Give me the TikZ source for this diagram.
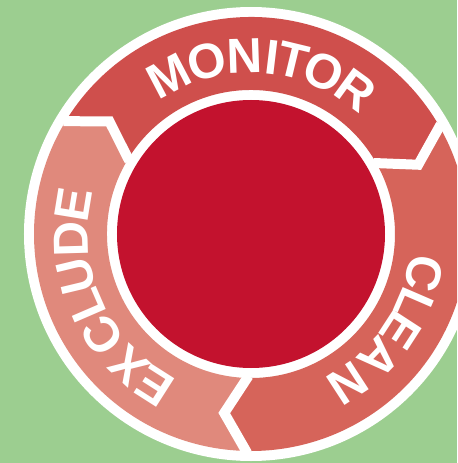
\documentclass[tikz,border=0pt]{standalone}
\usepackage{fontspec}
\setsansfont{Liberation Sans}
\definecolor{bggreen}{HTML}{9CCE90}
\definecolor{monred}{HTML}{CF4F4C}
\definecolor{cleanred}{HTML}{D6645A}
\definecolor{exred}{HTML}{E0897C}
\definecolor{corered}{HTML}{C3122E}
\tikzset{
  ringletter/.style={text=white,inner sep=0pt,font=\sffamily\bfseries\fontsize{28}{28}\selectfont},
  gapline/.style={draw=white,line width=0.2cm}
}
\begin{document}
\begin{tikzpicture}[x=0.02cm,y=0.02cm]
\clip (-251,-229) rectangle (206,234);
\fill[bggreen] (-251,-229) rectangle (206,234);
\fill[white] (0,0) circle (227);
% the three arrows of the ring
\fill[monred] (149:217) arc (149:30:217) -- (22.5:181) -- (30:144) arc (30:149:144) -- (141.5:181) -- cycle;
\fill[cleanred] (30:217) arc (30:-91:217) -- (-98.5:181) -- (-91:144) arc (-91:30:144) -- (22.5:181) -- cycle;
\fill[exred] (269:217) arc (269:149:217) -- (141.5:181) -- (149:144) arc (149:269:144) -- (261.5:181) -- cycle;
\foreach \a in {30,149,269} \draw[gapline] (\a:219) -- (\a-7.5:181) -- (\a:142);
%\draw[white,line width=0.2cm] (0,0) circle (139);
\fill[corered] (0,0) circle (134);
% letters
\foreach \l/\a [count=\i] in {M/117.6,O/104.3,N/91.9,I/83.2,T/76.4,O/66,R/54}
\node[ringletter,rotate=\a-90] (mon\i) at (\a:178) {\l};
\foreach \l/\a [count=\i] in {C/-12.8,L/-23.4,E/-33,A/-44.1,N/-57}
\node[ringletter,rotate=\a-90] (cl\i) at (\a:178) {\l};
\foreach \l/\a [count=\i] in {E/237.5,X/227.2,C/214.3,L/203.4,U/193.5,D/181.6,E/170.7}
\node[ringletter,rotate=\a-90] (ex\i) at (\a:180) {\l};
\end{tikzpicture}
\end{document}
